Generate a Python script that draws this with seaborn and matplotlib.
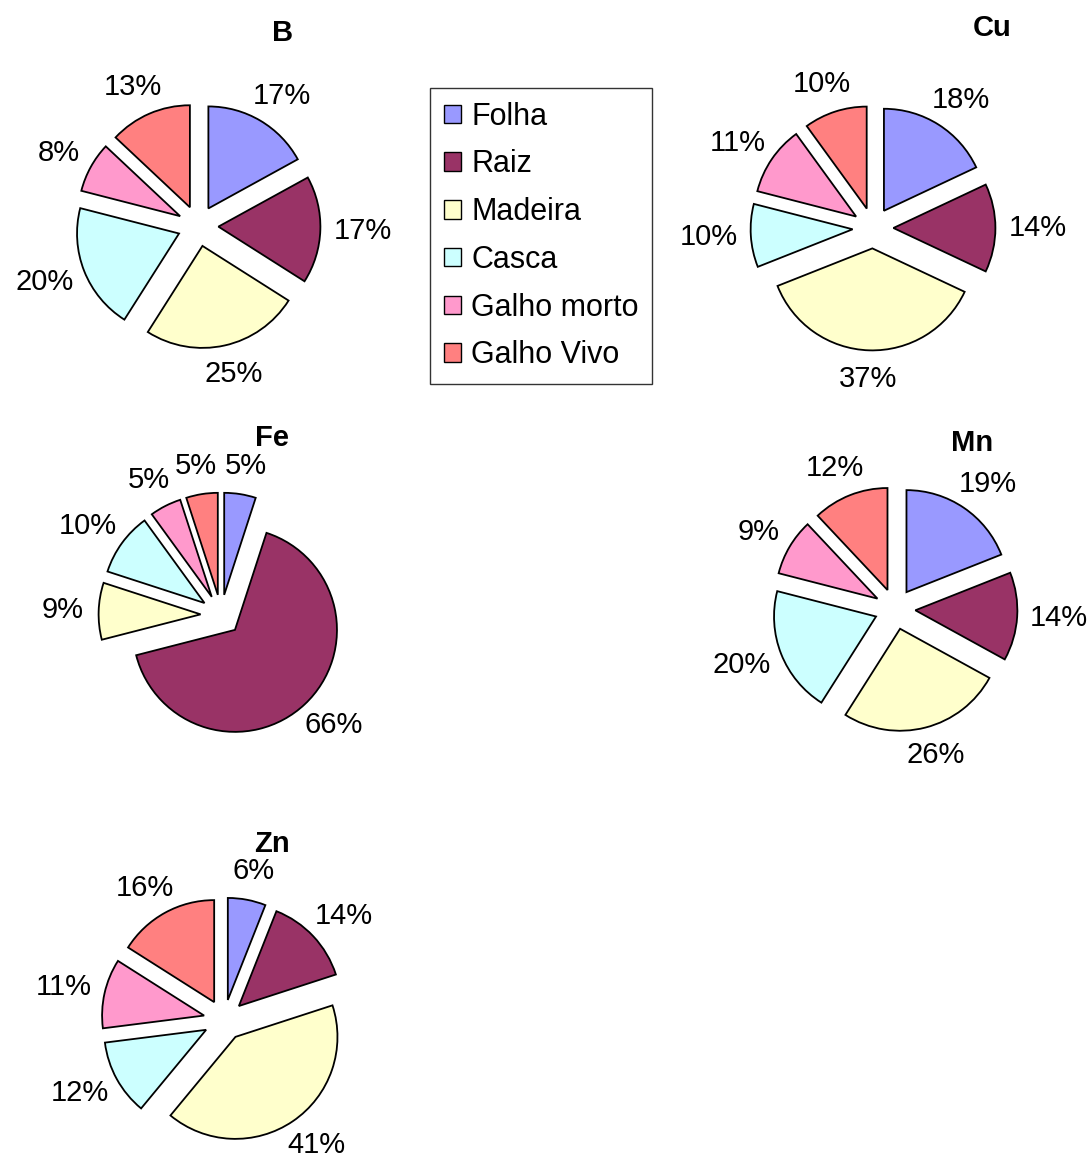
import matplotlib
matplotlib.use("Agg")
import numpy as np
import matplotlib.pyplot as plt
from matplotlib.patches import Patch
import seaborn as sns

W, H = 1091, 1154

components = ["Folha", "Raiz", "Madeira", "Casca", "Galho morto", "Galho Vivo"]
colors = ["#9999FF", "#993366", "#FFFFCC", "#CCFFFF", "#FF99CC", "#FF8080"]

b_vals = [17, 17, 25, 20, 8, 13]
cu_vals = [18, 14, 37, 10, 11, 10]
fe_vals = [5, 66, 9, 10, 5, 5]
mn_vals = [19, 14, 26, 20, 9, 12]
zn_vals = [6, 14, 41, 12, 11, 16]

# element -> (values, pie centre px, title position px)
panels = [
    ("B", b_vals, (198, 226), (283, 33)),
    ("Cu", cu_vals, (873, 228), (992, 28)),
    ("Fe", fe_vals, (221, 615), (272, 438)),
    ("Mn", mn_vals, (895, 609), (972, 443)),
    ("Zn", zn_vals, (224, 1020), (272, 844)),
]

sns.set_style("white")
plt.rcParams["font.family"] = ["Liberation Sans", "DejaVu Sans"]
plt.rcParams["text.color"] = "black"

fig = plt.figure(figsize=(W / 100, H / 100), dpi=100)

R = 102          # pie radius in px
LIM = 1.6        # axis limits in radius units
side = 2 * LIM * R
LABEL_D = 1.2    # distance of the label box edge, in radius units

pies = []
for name, vals, (cx, cy), (tx, ty) in panels:
    ax = fig.add_axes([(cx - side / 2) / W, 1 - (cy + side / 2) / H, side / W, side / H])
    wedges, texts = ax.pie(
        vals,
        labels=[f"{v}%" for v in vals],
        colors=colors,
        explode=[0.2] * len(vals),
        startangle=90,
        counterclock=False,
        labeldistance=LABEL_D,
        wedgeprops=dict(edgecolor="black", linewidth=1.3),
        textprops=dict(fontsize=21, ha="center", va="center", color="black"),
    )
    ax.set_xlim(-LIM, LIM)
    ax.set_ylim(-LIM, LIM)
    ax.set_aspect("equal")
    ax.axis("off")
    fig.text(tx / W, 1 - ty / H, name, fontsize=21, fontweight="bold",
             ha="center", va="center", color="black")
    pies.append((wedges, texts))

# push each label outwards so its box (not its centre) sits near LABEL_D
fig.canvas.draw()
renderer = fig.canvas.get_renderer()
for wedges, texts in pies:
    for w, t in zip(wedges, texts):
        ang = np.deg2rad((w.theta1 + w.theta2) / 2)
        bb = t.get_window_extent(renderer)
        hw, hh = bb.width / 2 / R * 0.75, bb.height / 2 / R * 0.6
        x, y = t.get_position()
        t.set_position((x + np.cos(ang) * hw, y + np.sin(ang) * hh))

handles = [Patch(facecolor=c, edgecolor="black", linewidth=1) for c in colors]
leg = fig.legend(
    handles, components,
    loc="upper left", bbox_to_anchor=(430 / W, 1 - 88 / H),
    frameon=True, fancybox=False, edgecolor="black",
    fontsize=22, handlelength=0.55, handleheight=0.55, handletextpad=0.35,
    labelspacing=0.58, borderpad=0.45, borderaxespad=0,
)
leg.get_frame().set_linewidth(1)
for t in leg.get_texts():
    t.set_color("black")

fig.savefig("out.png", dpi=100, facecolor="white")
